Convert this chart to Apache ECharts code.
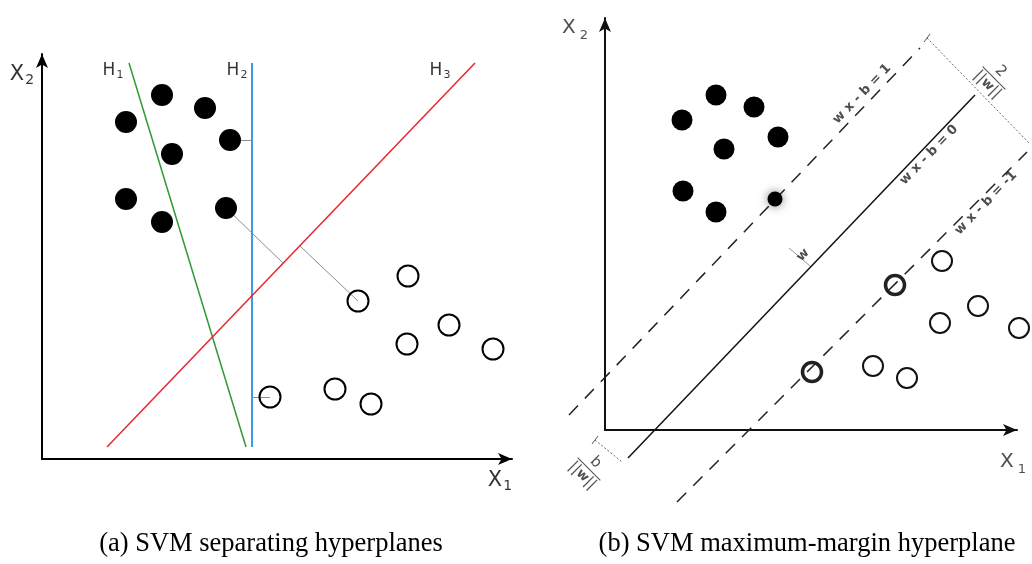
<!DOCTYPE html>
<html>
<head>
<meta charset="utf-8">
<script src="https://cdn.jsdelivr.net/npm/echarts@6/dist/echarts.min.js"></script>
<style>
html, body { margin: 0; padding: 0; background: #fff; }
#main { width: 1032px; height: 564px; }
</style>
</head>
<body>
<div id="main"></div>
<script>
// panel (a) - units are px measured from the axis origin
const aFilled = [[84, 337], [120, 364], [163, 351], [188, 319], [130, 305], [84, 260], [120, 237], [184, 251]]
const aOpen = [[366, 183], [316, 158], [407, 134], [365, 115], [451, 110], [228, 62], [293, 70], [329, 55]]
const aH1 = [[87, 396], [204, 12]]
const aH2 = [[210, 396], [210, 12]]
const aH3 = [[65, 12], [433, 396]]
const aLinks = [
  [[184, 251], [241, 196]],
  [[258, 213], [316, 158]],
  [[198, 319], [210, 319]],
  [[209, 62], [228, 62]],
]

// panel (b)
const bFilled = [[111, 335], [149, 323], [77, 310], [173, 293], [119, 281], [78, 239], [111, 218]]
const bFilledSV = [[170, 231]]
const bOpen = [[337, 169], [373, 124], [335, 107], [414, 102], [268, 64], [302, 52]]
const bOpenSV = [[290, 145], [207, 58]]
const bHyper = [[23, -28], [370, 335]]
const bPlus = [[-36, 15], [315, 382]]
const bMinus = [[72, -72], [422, 278]]
const bDotted = [
  [[322, 392], [425, 286]],
  [[-10, -10], [17, -32]],
]
const bTicks = [
  [[-13, -14], [-7, -6]],
  [[319, 388], [325, 396]],
]
const bNormal = [[205, 164], [184, 182]]

// text annotations
const aTexts = [
  { text: '{X|X}{xs|2}', value: [-20, 384] },
  { text: '{H|H}{hs|1}', value: [71, 388] },
  { text: '{H|H}{hs|2}', value: [195, 388] },
  { text: '{H|H}{hs|3}', value: [398, 388] },
  { text: '{X|X}{xs|1}', value: [458, -22] },
]
const bTexts = [
  { text: '{bX|X}{bxs|2}', value: [-30, 402] },
  { text: '{bX|X}{bxs|1}', value: [408, -32] },
  { text: '{b|w} {b|x} - b = 1', value: [257, 336], rotate: 46 },
  { text: '{b|w} {b|x} - b = 0', value: [324, 275], rotate: 46 },
  { text: '{b|w} {b|x} - b = -1', value: [381, 227], rotate: 46 },
  { text: '{b|w}', value: [198, 175], rotate: 46 },
  { text: '{n|2}\n{bar| }\n{n|||}{b|w}{n|||}', value: [389, 352], rotate: -45 },
  { text: '{n|b}\n{bar| }\n{n|||}{b|w}{n|||}', value: [-16, -39], rotate: -45 },
]

const chart = echarts.init(document.getElementById('main'))

const axisBase = {
  type: 'value',
  axisTick: { show: false },
  axisLabel: { show: false },
  splitLine: { show: false },
  axisLine: {
    show: true,
    symbol: ['none', 'arrow'],
    symbolSize: [9, 14],
    lineStyle: { color: '#000', width: 2 },
  },
}

function segs(list, grid, color, width, type) {
  return {
    type: 'lines',
    coordinateSystem: 'cartesian2d',
    xAxisIndex: grid,
    yAxisIndex: grid,
    clip: false,
    silent: true,
    data: list.map(c => ({ coords: c })),
    lineStyle: { color: color, width: width, type: type || 'solid', opacity: 1 },
    z: 2,
  }
}

function dots(data, grid, size, style) {
  return {
    type: 'scatter',
    xAxisIndex: grid,
    yAxisIndex: grid,
    data: data,
    symbolSize: size,
    clip: false,
    silent: true,
    z: 3,
    itemStyle: Object.assign({ opacity: 1 }, style),
  }
}

function texts(list, grid, color) {
  return {
    type: 'scatter',
    xAxisIndex: grid,
    yAxisIndex: grid,
    symbolSize: 0,
    silent: true,
    clip: false,
    z: 5,
    data: list.map(t => ({
      value: t.value,
      label: { rotate: t.rotate || 0 },
      text: t.text,
    })),
    label: {
      show: true,
      position: 'inside',
      formatter: p => p.data.text,
      color: color,
      fontFamily: 'DejaVu Sans',
      fontSize: 13,
      fontWeight: 'bold',
      rich: {
        X: { fontSize: 21, fontWeight: 'normal', color: color },
        xs: { fontSize: 14, fontWeight: 'normal', color: color, padding: [11, 0, 0, 1] },
        H: { fontSize: 17, fontWeight: 'normal', color: color },
        hs: { fontSize: 11, fontWeight: 'normal', color: color, padding: [9, 0, 0, 1] },
        bX: { fontSize: 20, fontWeight: 'normal', color: color },
        bxs: { fontSize: 13, fontWeight: 'normal', color: color, padding: [16, 0, 0, 4] },
        b: { fontWeight: 'bold', fontSize: 13, color: color },
        n: { fontSize: 15, fontWeight: 'normal', color: color, lineHeight: 16 },
        bar: { width: 32, height: 1, lineHeight: 3, backgroundColor: color, fontSize: 1 },
      },
    },
  }
}

const captionStyle = { fontFamily: 'Liberation Serif', fontSize: 26.5, fontWeight: 'normal', color: '#000' }

chart.setOption({
  animation: false,
  backgroundColor: '#fff',
  title: [
    { text: '(a) SVM separating hyperplanes', left: 266, top: 526, textAlign: 'center', textStyle: captionStyle },
    { text: '(b) SVM maximum-margin hyperplane', left: 802, top: 526, textAlign: 'center', textStyle: captionStyle },
  ],
  grid: [
    { left: 42, top: 54, width: 470, height: 405, outerBoundsMode: 'none' },
    { left: 605, top: 18, width: 412, height: 412, outerBoundsMode: 'none' },
  ],
  xAxis: [
    { ...axisBase, gridIndex: 0, min: 0, max: 470 },
    { ...axisBase, gridIndex: 1, min: 0, max: 412, axisLine: { ...axisBase.axisLine, lineStyle: { color: '#111', width: 2 } } },
  ],
  yAxis: [
    { ...axisBase, gridIndex: 0, min: 0, max: 405 },
    { ...axisBase, gridIndex: 1, min: 0, max: 412, axisLine: { ...axisBase.axisLine, lineStyle: { color: '#111', width: 2 } } },
  ],
  series: [
    // (a)
    segs([aH1], 0, '#2f9a33', 1.5),
    segs([aH2], 0, '#3b9be6', 2),
    segs([aH3], 0, '#e8262c', 1.5),
    segs(aLinks, 0, '#8c8c8c', 1),
    dots(aFilled, 0, 22, { color: '#000' }),
    dots(aOpen, 0, 21, { color: 'rgba(0,0,0,0)', borderColor: '#000', borderWidth: 2 }),
    texts(aTexts, 0, '#000'),

    // (b)
    segs([bHyper], 1, '#111', 1.5),
    segs([bPlus, bMinus], 1, '#222', 1.5, [13, 10]),
    segs(bDotted, 1, '#666', 1, [2, 2]),
    segs(bTicks, 1, '#555', 1),
    segs([bNormal], 1, '#999', 1),
    dots(bFilled, 1, 21, { color: '#000' }),
    dots(bFilledSV, 1, 15, { color: '#000', shadowBlur: 10, shadowColor: 'rgba(0,0,0,0.5)' }),
    dots(bOpen, 1, 20, { color: 'rgba(0,0,0,0)', borderColor: '#111', borderWidth: 2 }),
    dots(bOpenSV, 1, 19, { color: 'rgba(0,0,0,0)', borderColor: '#222', borderWidth: 3.5 }),
    texts(bTexts, 1, '#222'),
  ],
})
</script>
</body>
</html>
